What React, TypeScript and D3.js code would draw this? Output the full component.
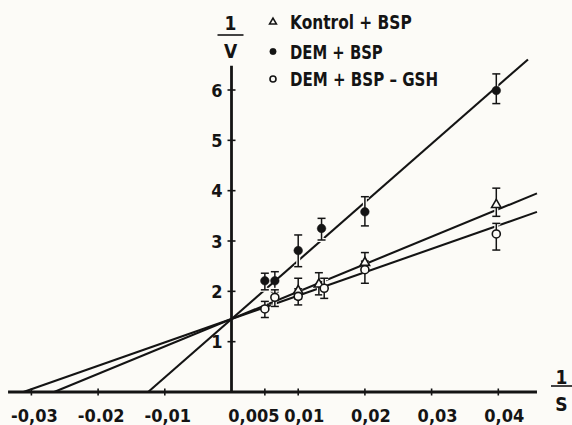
import React from "react";
import * as d3 from "d3";

// ---- data ----
const xTickValues = [-0.03, -0.02, -0.01, 0.005, 0.01, 0.02, 0.03, 0.04];
const xTickLabels = ["-0,03", "-0.02", "-0,01", "0,005", "0,01", "0,02", "0,03", "0,04"];
const yTickValues = [1, 2, 3, 4, 5, 6];

const seriesNames = ["Kontrol + BSP", "DEM + BSP", "DEM + BSP \u2013 GSH"];

const sKontrol = [0.01, 0.0131, 0.02, 0.0397];
const vKontrol = [2.03, 2.16, 2.59, 3.74];
const hiKontrol = [2.26, 2.37, 2.77, 4.05];
const loKontrol = [1.85, 1.93, 2.42, 3.49];

const sDem = [0.005, 0.0065, 0.01, 0.0135, 0.02, 0.0397];
const vDem = [2.21, 2.21, 2.81, 3.25, 3.58, 5.99];
const hiDem = [2.36, 2.39, 3.12, 3.45, 3.88, 6.32];
const loDem = [2.03, 1.99, 2.49, 3.02, 3.3, 5.73];

const sGsh = [0.005, 0.0065, 0.01, 0.0139, 0.02, 0.0397];
const vGsh = [1.65, 1.88, 1.9, 2.06, 2.43, 3.14];
const hiGsh = [1.8, 2.03, 2.05, 2.26, 2.6, 3.35];
const loGsh = [1.48, 1.7, 1.73, 1.86, 2.16, 2.82];

// fitted Lineweaver-Burk lines: x-intercept (-1/Km), y-intercept (1/Vmax), right end
const fitXIntercept = [-0.0266, -0.0125, -0.0312];
const fitYIntercept = [1.45, 1.45, 1.45];
const fitXEnd = [0.0458, 0.04445, 0.0458];

const W = 572;
const H = 425;
const FONT = "'DejaVu Sans Condensed', 'Liberation Sans', sans-serif";
const BG = "#fcfbf7";
const INK = "#141414";
const legendTextWidths = [121.7, 92.7, 148];

export default function App() {
  const x = d3.scaleLinear().domain([-0.03, 0.04]).range([31.4, 498.3]);
  const y = d3.scaleLinear().domain([0, 6]).range([392, 90]);
  const x0 = x(0);
  const y0 = y(0);

  const series = [
    { s: sKontrol, v: vKontrol, hi: hiKontrol, lo: loKontrol, kind: "tri" },
    { s: sDem, v: vDem, hi: hiDem, lo: loDem, kind: "dot" },
    { s: sGsh, v: vGsh, hi: hiGsh, lo: loGsh, kind: "circ" },
  ];

  const lineGen = d3.line<[number, number]>().x((d) => x(d[0])).y((d) => y(d[1]));

  const triBig = d3.symbol().type(d3.symbolTriangle).size(38)();
  const triSmall = d3.symbol().type(d3.symbolTriangle).size(20)();

  const marker = (kind: string, cx: number, cy: number, small: boolean, key: string) => {
    if (kind === "tri") {
      return (
        <path key={key} d={small ? triSmall! : triBig!} transform={`translate(${cx},${cy + (small ? 0.5 : 1)})`}
          fill={BG} stroke={INK} strokeWidth={1.6} />
      );
    }
    if (kind === "dot") {
      return <circle key={key} cx={cx} cy={cy} r={small ? 3.2 : 4.3} fill={INK} stroke={INK} strokeWidth={0.5} />;
    }
    return <circle key={key} cx={cx} cy={cy} r={small ? 3 : 4} fill={BG} stroke={INK} strokeWidth={1.6} />;
  };

  return (
    <svg width={W} height={H} style={{ position: "absolute", left: 0, top: 0, background: BG }}
      fontFamily={FONT}>
      <rect x={0} y={0} width={W} height={H} fill={BG} />

      {/* fitted lines */}
      {fitXIntercept.map((xi, i) => {
        const slope = fitYIntercept[i] / -xi;
        const pts: [number, number][] = [
          [xi, 0],
          [fitXEnd[i], fitYIntercept[i] + slope * fitXEnd[i]],
        ];
        return <path key={"fit" + i} d={lineGen(pts)!} stroke={INK} strokeWidth={2.1} fill="none" />;
      })}

      {/* axes */}
      <line x1={x(-0.0335)} x2={x(0.0458)} y1={y0} y2={y0} stroke={INK} strokeWidth={2.8} />
      <line x1={x0} x2={x0} y1={y0} y2={y(6.48)} stroke={INK} strokeWidth={2.8} />
      {xTickValues.map((t, i) => (
        <line key={"xt" + i} x1={x(t)} x2={x(t)} y1={y0 - 3.5} y2={y0 + 3.5} stroke={INK} strokeWidth={1.6} />
      ))}
      {yTickValues.map((t, i) => (
        <line key={"yt" + i} x1={x0 - 4} x2={x0 + 4} y1={y(t)} y2={y(t)} stroke={INK} strokeWidth={1.6} />
      ))}
      {xTickLabels.map((lab, i) => (
        <text key={"xl" + i} x={x(xTickValues[i]) + (i === 3 ? -11 : i < 3 ? 3 : 6)} y={422}
          textAnchor="middle" fontSize={18} fontWeight="bold" fill={INK}>
          {lab}
        </text>
      ))}
      {yTickValues.map((t, i) => (
        <text key={"yl" + i} x={x0 - 9} y={y(t) + 6.6} textAnchor="end" fontSize={18} fontWeight="bold" fill={INK}>
          {t}
        </text>
      ))}

      {/* axis titles */}
      <text x={x0 - 1} y={30} textAnchor="middle" fontSize={19} fontWeight="bold" fill={INK}>1</text>
      <line x1={x0 - 14} x2={x0 + 12} y1={35} y2={35} stroke={INK} strokeWidth={1.6} />
      <text x={x0 - 1} y={57.5} textAnchor="middle" fontSize={19} fontWeight="bold" fill={INK}>V</text>

      <text x={561.5} y={384} textAnchor="middle" fontSize={19} fontWeight="bold" fill={INK}>1</text>
      <line x1={551} x2={572} y1={386} y2={386} stroke={INK} strokeWidth={1.6} />
      <text x={561.5} y={411} textAnchor="middle" fontSize={19} fontWeight="bold" fill={INK}>S</text>

      {/* error bars with paper halo */}
      {series.map((se, si) =>
        se.s.map((sv, j) => {
          const cx = x(sv);
          return (
            <g key={`eb${si}-${j}`}>
              <line x1={cx} x2={cx} y1={y(se.hi[j])} y2={y(se.lo[j])} stroke={BG} strokeWidth={4} />
              <line x1={cx - 4} x2={cx + 4} y1={y(se.hi[j])} y2={y(se.hi[j])} stroke={BG} strokeWidth={4} />
              <line x1={cx - 4} x2={cx + 4} y1={y(se.lo[j])} y2={y(se.lo[j])} stroke={BG} strokeWidth={4} />
              <line x1={cx} x2={cx} y1={y(se.hi[j])} y2={y(se.lo[j])} stroke={INK} strokeWidth={1.5} />
              <line x1={cx - 4} x2={cx + 4} y1={y(se.hi[j])} y2={y(se.hi[j])} stroke={INK} strokeWidth={1.5} />
              <line x1={cx - 4} x2={cx + 4} y1={y(se.lo[j])} y2={y(se.lo[j])} stroke={INK} strokeWidth={1.5} />
            </g>
          );
        })
      )}

      {/* markers */}
      {series.map((se, si) => se.s.map((sv, j) => marker(se.kind, x(sv), y(se.v[j]), false, `m${si}-${j}`)))}

      {/* legend */}
      {seriesNames.map((name, i) => {
        const rowY = [21.5, 51.5, 79][i];
        return (
          <g key={"lg" + i}>
            {marker(series[i].kind, 273, rowY, true, "lm" + i)}
            <text x={290} y={rowY + 7} fontSize={20} fontWeight="bold" fill={INK}
              textLength={legendTextWidths[i]} lengthAdjust="spacingAndGlyphs">
              {name}
            </text>
          </g>
        );
      })}
    </svg>
  );
}
